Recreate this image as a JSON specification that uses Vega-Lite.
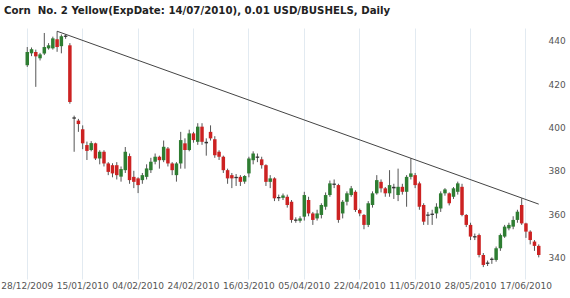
{
  "$schema": "https://vega.github.io/schema/vega-lite/v6.json",
  "width": 520,
  "height": 251,
  "autosize": {"type": "none"},
  "padding": {"left": 23, "top": 28, "right": 27, "bottom": 19},
  "background": "white",
  "config": {"view": {"stroke": null}},
  "title": {
    "text": "Corn\u00a0 No. 2 Yellow(ExpDate: 14/07/2010), 0.01 USD/BUSHELS, Daily",
    "anchor": "start", "frame": "group", "dx": -19, "offset": 12,
    "font": "DejaVu Sans", "fontSize": 10.2, "fontWeight": "bold", "color": "#222"
  },
  "datasets": {
    "px": [
      {"d": "2009-12-28", "o": 428.8, "h": 437.2, "l": 428.0, "c": 434.9},
      {"d": "2009-12-29", "o": 434.3, "h": 437.0, "l": 433.0, "c": 436.2},
      {"d": "2009-12-30", "o": 434.9, "h": 436.0, "l": 418.8, "c": 432.9},
      {"d": "2009-12-31", "o": 432.0, "h": 434.5, "l": 431.0, "c": 433.8},
      {"d": "2010-01-04", "o": 434.2, "h": 443.7, "l": 433.5, "c": 437.2},
      {"d": "2010-01-05", "o": 436.6, "h": 439.0, "l": 436.0, "c": 438.0},
      {"d": "2010-01-06", "o": 436.6, "h": 442.0, "l": 436.0, "c": 441.2},
      {"d": "2010-01-07", "o": 440.8, "h": 444.5, "l": 435.0, "c": 437.2},
      {"d": "2010-01-08", "o": 437.6, "h": 443.0, "l": 434.3, "c": 442.2},
      {"d": "2010-01-11", "o": 441.9, "h": 443.0, "l": 441.0, "c": 442.5},
      {"d": "2010-01-12", "o": 438.0, "h": 439.0, "l": 411.0, "c": 411.8},
      {"d": "2010-01-13", "o": 404.7, "h": 405.5, "l": 388.8, "c": 404.1},
      {"d": "2010-01-14", "o": 403.2, "h": 404.0, "l": 398.0, "c": 401.6},
      {"d": "2010-01-15", "o": 399.2, "h": 401.0, "l": 390.0, "c": 392.7},
      {"d": "2010-01-19", "o": 391.9, "h": 393.5, "l": 385.0, "c": 389.2},
      {"d": "2010-01-20", "o": 389.6, "h": 393.7, "l": 389.0, "c": 392.8},
      {"d": "2010-01-21", "o": 392.7, "h": 393.0, "l": 385.0, "c": 385.7},
      {"d": "2010-01-22", "o": 385.7, "h": 389.5, "l": 383.0, "c": 388.8},
      {"d": "2010-01-25", "o": 388.8, "h": 389.5, "l": 382.0, "c": 383.4},
      {"d": "2010-01-26", "o": 383.4, "h": 384.0, "l": 378.0, "c": 379.5},
      {"d": "2010-01-27", "o": 382.6, "h": 383.5, "l": 377.0, "c": 378.8},
      {"d": "2010-01-28", "o": 382.6, "h": 384.0, "l": 376.0, "c": 378.0},
      {"d": "2010-01-29", "o": 377.3, "h": 382.0, "l": 375.0, "c": 380.8},
      {"d": "2010-02-01", "o": 380.3, "h": 391.0, "l": 379.0, "c": 388.8},
      {"d": "2010-02-02", "o": 386.8, "h": 388.0, "l": 374.0, "c": 375.7},
      {"d": "2010-02-03", "o": 377.2, "h": 380.0, "l": 372.0, "c": 374.9},
      {"d": "2010-02-04", "o": 376.5, "h": 377.0, "l": 369.7, "c": 373.4},
      {"d": "2010-02-05", "o": 375.7, "h": 379.0, "l": 374.0, "c": 378.0},
      {"d": "2010-02-08", "o": 377.2, "h": 383.0, "l": 376.0, "c": 381.1},
      {"d": "2010-02-09", "o": 380.3, "h": 386.0, "l": 379.0, "c": 384.2},
      {"d": "2010-02-10", "o": 384.2, "h": 388.0, "l": 383.0, "c": 386.5},
      {"d": "2010-02-11", "o": 386.5, "h": 387.0, "l": 381.0, "c": 384.9},
      {"d": "2010-02-12", "o": 384.9, "h": 394.0, "l": 384.0, "c": 391.1},
      {"d": "2010-02-16", "o": 390.3, "h": 391.0, "l": 382.0, "c": 383.4},
      {"d": "2010-02-17", "o": 383.4, "h": 384.0, "l": 378.0, "c": 380.3},
      {"d": "2010-02-18", "o": 378.0, "h": 384.0, "l": 375.0, "c": 383.4},
      {"d": "2010-02-19", "o": 383.4, "h": 398.0, "l": 381.0, "c": 394.2},
      {"d": "2010-02-22", "o": 392.7, "h": 395.0, "l": 381.0, "c": 389.6},
      {"d": "2010-02-23", "o": 389.6, "h": 399.0, "l": 389.0, "c": 397.3},
      {"d": "2010-02-24", "o": 397.3, "h": 398.0, "l": 393.0, "c": 394.2},
      {"d": "2010-02-25", "o": 393.4, "h": 402.0, "l": 392.0, "c": 400.4},
      {"d": "2010-02-26", "o": 400.4, "h": 402.0, "l": 392.0, "c": 393.4},
      {"d": "2010-03-01", "o": 393.4, "h": 395.0, "l": 387.0, "c": 392.7},
      {"d": "2010-03-02", "o": 398.0, "h": 401.0, "l": 394.0, "c": 395.0},
      {"d": "2010-03-03", "o": 394.6, "h": 396.0, "l": 386.0, "c": 387.2},
      {"d": "2010-03-04", "o": 388.8, "h": 389.5, "l": 385.0, "c": 386.5},
      {"d": "2010-03-08", "o": 386.5, "h": 387.0, "l": 379.0, "c": 380.3},
      {"d": "2010-03-09", "o": 380.3, "h": 381.0, "l": 374.0, "c": 376.5},
      {"d": "2010-03-10", "o": 378.0, "h": 379.0, "l": 372.0, "c": 376.5},
      {"d": "2010-03-11", "o": 377.2, "h": 378.5, "l": 373.0, "c": 376.6},
      {"d": "2010-03-12", "o": 377.2, "h": 378.0, "l": 373.0, "c": 374.9},
      {"d": "2010-03-15", "o": 375.0, "h": 378.0, "l": 374.0, "c": 377.6},
      {"d": "2010-03-16", "o": 378.8, "h": 386.5, "l": 377.0, "c": 385.7},
      {"d": "2010-03-17", "o": 384.9, "h": 389.0, "l": 383.0, "c": 388.0},
      {"d": "2010-03-18", "o": 386.6, "h": 388.0, "l": 384.0, "c": 386.0},
      {"d": "2010-03-19", "o": 385.3, "h": 386.5, "l": 381.0, "c": 382.6},
      {"d": "2010-03-22", "o": 382.6, "h": 383.0, "l": 373.0, "c": 374.9},
      {"d": "2010-03-23", "o": 374.9, "h": 378.0, "l": 372.0, "c": 376.5},
      {"d": "2010-03-24", "o": 376.5, "h": 377.0, "l": 366.0, "c": 367.3},
      {"d": "2010-03-25", "o": 367.9, "h": 369.0, "l": 366.0, "c": 367.3},
      {"d": "2010-03-26", "o": 367.5, "h": 369.5, "l": 366.5, "c": 368.6},
      {"d": "2010-03-29", "o": 368.0, "h": 369.0, "l": 363.0, "c": 364.2},
      {"d": "2010-03-30", "o": 365.7, "h": 366.5, "l": 356.0, "c": 357.3},
      {"d": "2010-03-31", "o": 357.5, "h": 358.5, "l": 356.0, "c": 356.9},
      {"d": "2010-04-01", "o": 356.9, "h": 359.0, "l": 356.0, "c": 358.0},
      {"d": "2010-04-05", "o": 358.8, "h": 370.3, "l": 357.0, "c": 368.8},
      {"d": "2010-04-06", "o": 366.5, "h": 368.0, "l": 359.0, "c": 360.3},
      {"d": "2010-04-07", "o": 360.3, "h": 361.0, "l": 355.0, "c": 357.3},
      {"d": "2010-04-08", "o": 358.0, "h": 362.0, "l": 357.0, "c": 360.3},
      {"d": "2010-04-09", "o": 359.6, "h": 365.0, "l": 358.0, "c": 364.2},
      {"d": "2010-04-12", "o": 363.4, "h": 370.0, "l": 362.0, "c": 368.8},
      {"d": "2010-04-13", "o": 368.8, "h": 375.5, "l": 368.0, "c": 374.2},
      {"d": "2010-04-14", "o": 374.1, "h": 376.0, "l": 372.0, "c": 373.5},
      {"d": "2010-04-15", "o": 373.4, "h": 374.0, "l": 356.0, "c": 357.3},
      {"d": "2010-04-16", "o": 360.3, "h": 366.5, "l": 358.0, "c": 365.7},
      {"d": "2010-04-19", "o": 365.7, "h": 370.5, "l": 364.0, "c": 369.6},
      {"d": "2010-04-20", "o": 368.8, "h": 373.0, "l": 368.0, "c": 371.9},
      {"d": "2010-04-21", "o": 370.3, "h": 371.0, "l": 361.0, "c": 361.9},
      {"d": "2010-04-22", "o": 361.9, "h": 362.5, "l": 359.0, "c": 360.3},
      {"d": "2010-04-23", "o": 359.6, "h": 360.0, "l": 353.0, "c": 355.0},
      {"d": "2010-04-26", "o": 355.0, "h": 366.0, "l": 354.0, "c": 365.0},
      {"d": "2010-04-27", "o": 364.2, "h": 370.5, "l": 363.0, "c": 369.6},
      {"d": "2010-04-28", "o": 369.6, "h": 378.0, "l": 369.0, "c": 375.7},
      {"d": "2010-04-29", "o": 374.9, "h": 376.0, "l": 370.0, "c": 371.9},
      {"d": "2010-04-30", "o": 371.9, "h": 372.5, "l": 368.0, "c": 369.6},
      {"d": "2010-05-03", "o": 369.6, "h": 380.3, "l": 368.0, "c": 373.4},
      {"d": "2010-05-04", "o": 372.6, "h": 374.0, "l": 367.0, "c": 371.9},
      {"d": "2010-05-05", "o": 368.8, "h": 381.0, "l": 366.0, "c": 372.6},
      {"d": "2010-05-06", "o": 372.6, "h": 374.0, "l": 369.0, "c": 370.3},
      {"d": "2010-05-07", "o": 370.3, "h": 378.0, "l": 363.4, "c": 377.2},
      {"d": "2010-05-10", "o": 377.2, "h": 385.8, "l": 376.0, "c": 378.8},
      {"d": "2010-05-11", "o": 378.0, "h": 379.0, "l": 372.0, "c": 373.4},
      {"d": "2010-05-12", "o": 374.2, "h": 375.0, "l": 362.0, "c": 363.4},
      {"d": "2010-05-13", "o": 364.2, "h": 365.0, "l": 355.0, "c": 356.5},
      {"d": "2010-05-14", "o": 359.8, "h": 361.0, "l": 355.0, "c": 359.2},
      {"d": "2010-05-17", "o": 360.2, "h": 362.0, "l": 355.0, "c": 359.6},
      {"d": "2010-05-18", "o": 360.3, "h": 365.0, "l": 358.0, "c": 363.4},
      {"d": "2010-05-19", "o": 362.6, "h": 370.5, "l": 361.0, "c": 369.6},
      {"d": "2010-05-20", "o": 369.6, "h": 372.0, "l": 368.5, "c": 371.4},
      {"d": "2010-05-21", "o": 369.6, "h": 370.0, "l": 364.0, "c": 365.0},
      {"d": "2010-05-24", "o": 368.0, "h": 372.5, "l": 367.0, "c": 371.9},
      {"d": "2010-05-25", "o": 370.3, "h": 375.0, "l": 369.0, "c": 374.2},
      {"d": "2010-05-26", "o": 372.6, "h": 374.0, "l": 359.0, "c": 359.6},
      {"d": "2010-05-27", "o": 359.6, "h": 360.0, "l": 354.0, "c": 355.0},
      {"d": "2010-05-28", "o": 355.0, "h": 356.0, "l": 348.0, "c": 349.6},
      {"d": "2010-06-01", "o": 349.8, "h": 351.0, "l": 348.0, "c": 349.2},
      {"d": "2010-06-02", "o": 350.3, "h": 351.0, "l": 340.0, "c": 341.1},
      {"d": "2010-06-03", "o": 341.1, "h": 342.0, "l": 335.5, "c": 336.5},
      {"d": "2010-06-04", "o": 337.6, "h": 338.5, "l": 336.0, "c": 337.0},
      {"d": "2010-06-07", "o": 338.8, "h": 340.0, "l": 337.0, "c": 339.4},
      {"d": "2010-06-08", "o": 338.8, "h": 345.0, "l": 338.0, "c": 344.2},
      {"d": "2010-06-09", "o": 344.2, "h": 351.0, "l": 343.0, "c": 350.3},
      {"d": "2010-06-10", "o": 349.6, "h": 355.0, "l": 349.0, "c": 354.2},
      {"d": "2010-06-11", "o": 353.4, "h": 356.0, "l": 352.5, "c": 355.0},
      {"d": "2010-06-14", "o": 354.2, "h": 359.0, "l": 353.0, "c": 357.3},
      {"d": "2010-06-15", "o": 357.3, "h": 362.0, "l": 356.0, "c": 361.1},
      {"d": "2010-06-16", "o": 364.2, "h": 367.3, "l": 355.0, "c": 355.7},
      {"d": "2010-06-17", "o": 355.7, "h": 356.0, "l": 349.0, "c": 351.9},
      {"d": "2010-06-18", "o": 351.9, "h": 352.5, "l": 346.0, "c": 348.0},
      {"d": "2010-06-21", "o": 347.3, "h": 348.0, "l": 343.0, "c": 345.3},
      {"d": "2010-06-22", "o": 345.3, "h": 346.0, "l": 340.0, "c": 341.1}
    ],
    "trend": [
      {"d": "2010-01-07", "v": 444.5},
      {"d": "2010-06-22", "v": 364.6}
    ]
  },
  "layer": [
    {
      "data": {"name": "px"},
      "mark": {"type": "rule", "color": "#555", "strokeWidth": 1},
      "encoding": {
        "x": {
          "field": "d", "type": "ordinal",
          "scale": {"type": "band", "paddingInner": 0, "paddingOuter": 0.5},
          "axis": {
            "values": ["2009-12-28", "2010-01-15", "2010-02-04", "2010-02-24", "2010-03-16", "2010-04-05", "2010-04-22", "2010-05-11", "2010-05-28", "2010-06-17"],
            "labelExpr": "substring(datum.value,8,10)+'/'+substring(datum.value,5,7)+'/'+substring(datum.value,0,4)",
            "title": null, "grid": true, "gridColor": "#e2eaf1", "bandPosition": 0.5,
            "ticks": false, "domain": false, "labelAngle": 0,
            "labelFont": "DejaVu Sans", "labelFontSize": 9, "labelColor": "#555", "labelPadding": 2
          }
        },
        "y": {
          "field": "l", "type": "quantitative",
          "scale": {"domain": [330, 446], "nice": false, "zero": false},
          "axis": {
            "orient": "right", "values": [340, 360, 380, 400, 420, 440],
            "title": null, "grid": false, "ticks": false, "domain": false,
            "labelFont": "DejaVu Sans", "labelFontSize": 9, "labelColor": "#555", "labelPadding": 5
          }
        },
        "y2": {"field": "h"}
      }
    },
    {
      "data": {"name": "px"},
      "mark": {"type": "bar", "size": 3.5},
      "encoding": {
        "x": {"field": "d", "type": "ordinal"},
        "y": {"field": "o", "type": "quantitative"},
        "y2": {"field": "c"},
        "color": {
          "condition": [
            {"test": "abs(datum.c - datum.o) < 0.8", "value": "#333333"},
            {"test": "datum.c > datum.o", "value": "#2e7d32"}
          ],
          "value": "#cc2222"
        }
      }
    },
    {
      "data": {"name": "trend"},
      "mark": {"type": "line", "color": "#444", "strokeWidth": 1},
      "encoding": {
        "x": {"field": "d", "type": "ordinal"},
        "y": {"field": "v", "type": "quantitative"}
      }
    }
  ]
}
